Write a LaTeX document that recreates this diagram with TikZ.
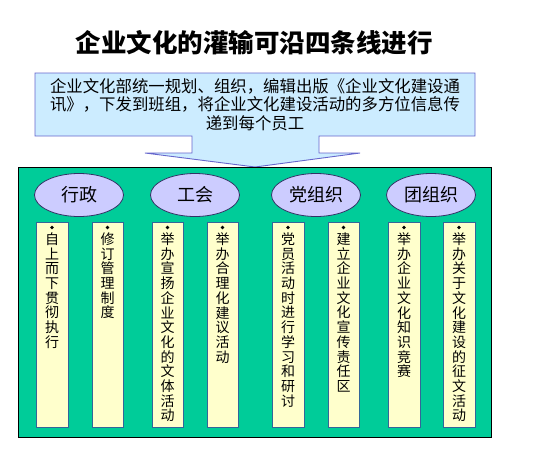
\documentclass[tikz,border=0pt]{standalone}
\usepackage{fontspec}
\setmainfont{Noto Sans CJK SC}
\usetikzlibrary{shapes.geometric}
\definecolor{greenfill}{HTML}{00CC99}
\definecolor{callfill}{HTML}{CCECFF}
\definecolor{callline}{HTML}{6666CC}
\definecolor{ellfill}{HTML}{CCCCFF}
\definecolor{ellline}{HTML}{333366}
\definecolor{barfill}{HTML}{FFFFCC}
\definecolor{barline}{HTML}{336699}
\tikzset{
  x=1pt,y=-1pt,
  grp/.style={ellipse,draw=ellline,fill=ellfill,line width=0.8pt,minimum width=89pt,minimum height=43pt,inner sep=0pt,font=\fontsize{18}{20}\selectfont},
  barbox/.style={draw=barline,fill=barfill,line width=0.9pt},
  bartext/.style={anchor=north,align=center,inner sep=0pt,font=\fontsize{14}{14.7}\selectfont},
  bul/.style={circle,fill=black,inner sep=0pt,minimum size=3.6pt},
}
\newcommand{\btop}{222}
\newcommand{\bbot}{427}
\begin{document}
\begin{tikzpicture}
\useasboundingbox (0,0) rectangle (537,453);
\fill[white] (0,0) rectangle (537,453);
% title
\node[font=\fontsize{25.5}{28}\selectfont\bfseries] (title) at (254,43) {企业文化的灌输可沿四条线进行};
% callout
\draw[callline,fill=callfill,line width=0.9pt,line join=miter]
  (35,73) -- (475,73) -- (475,136) -- (319,136) -- (319,153) -- (360,153)
  -- (255,167) -- (145,153) -- (192,153) -- (192,136) -- (35,136) -- cycle;
\node[align=center,font=\fontsize{16.4}{18.5}\selectfont,inner sep=0pt] (info) at (255,104.5)
  {企业文化部统一规划、组织，编辑出版《企业文化建设通\\讯》，下发到班组，将企业文化建设活动的多方位信息传\\递到每个员工};
% green panel
\draw[black,fill=greenfill,line width=0.8pt] (18,167) rectangle (491,437);
% groups
\node[grp] (g1) at (79,195) {行政};
\node[grp] (g2) at (195,195) {工会};
\node[grp] (g3) at (316,195) {党组织};
\node[grp] (g4) at (431,195) {团组织};
% bars
\foreach \xa/\xb in {36/68,92/123,152/183,207/238,272/304,328/359,388/420,443/475}{
  \draw[barbox] (\xa,\btop) rectangle (\xb,\bbot);
}
\foreach \cx [count=\i] in {52,107.5,167.5,222.5,288,343.5,404,459}{
  \node[bul] (b\i) at (\cx,227.5) {};
}
\node[bartext] (t1) at (52,232.5) {自\\上\\而\\下\\贯\\彻\\执\\行};
\node[bartext] (t2) at (107.5,232.5) {修\\订\\管\\理\\制\\度};
\node[bartext] (t3) at (167.5,232.5) {举\\办\\宣\\扬\\企\\业\\文\\化\\的\\文\\体\\活\\动};
\node[bartext] (t4) at (222.5,232.5) {举\\办\\合\\理\\化\\建\\议\\活\\动};
\node[bartext] (t5) at (288,232.5) {党\\员\\活\\动\\时\\进\\行\\学\\习\\和\\研\\讨};
\node[bartext] (t6) at (343.5,232.5) {建\\立\\企\\业\\文\\化\\宣\\传\\责\\任\\区};
\node[bartext] (t7) at (404,232.5) {举\\办\\企\\业\\文\\化\\知\\识\\竞\\赛};
\node[bartext] (t8) at (459,232.5) {举\\办\\关\\于\\文\\化\\建\\设\\的\\征\\文\\活\\动};
\end{tikzpicture}
\end{document}
